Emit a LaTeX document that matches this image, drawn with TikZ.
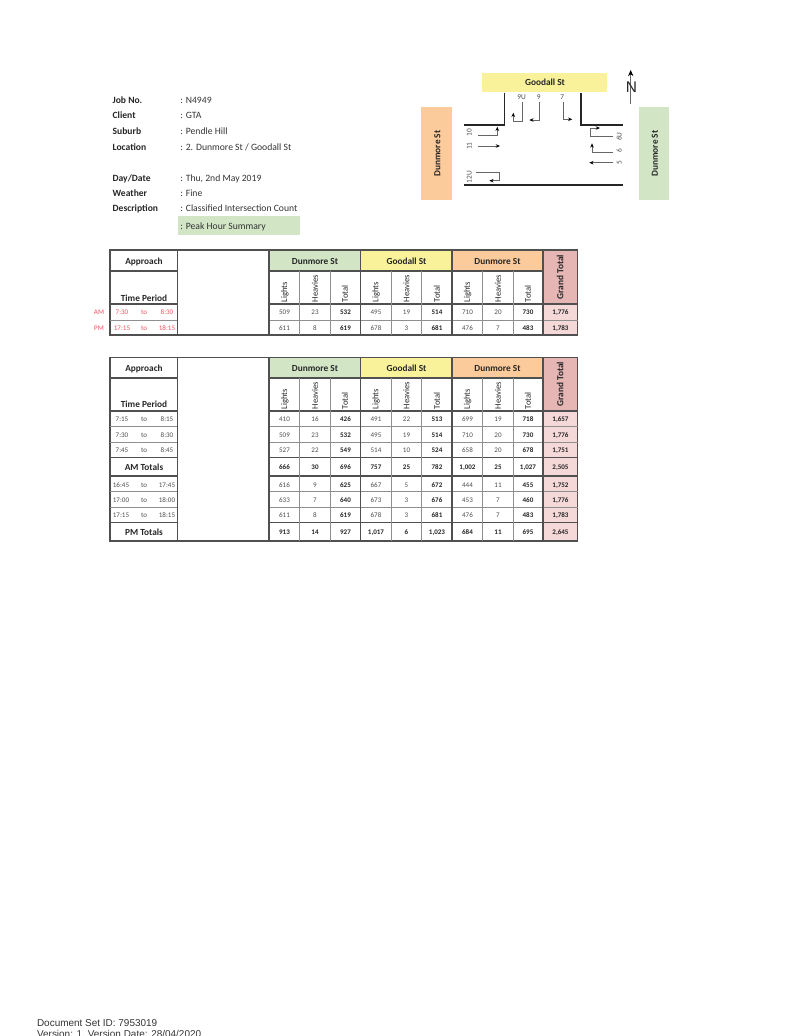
\documentclass[tikz,border=0pt]{standalone}
\usepackage{fontspec}
\setmainfont{Carlito}
\newfontfamily\footfont{Liberation Sans}
\usetikzlibrary{arrows.meta}
\definecolor{cellgreen}{HTML}{D2E6C6}
\definecolor{cellyellow}{HTML}{F9F29B}
\definecolor{cellorange}{HTML}{FBCB9C}
\definecolor{cellpink}{HTML}{E6B6B4}
\definecolor{celllight}{HTML}{F4D9D8}
\definecolor{griddark}{HTML}{505050}
\definecolor{gridgray}{HTML}{8F8F8F}
\definecolor{redtime}{HTML}{F0505F}
\tikzset{
    infokey/.style = {anchor=west,inner sep=0,text height=4.3pt,text depth=0pt,font=\fontsize{5.45}{6}\selectfont\bfseries,text=black!85},
    infoval/.style = {anchor=west,inner sep=0,text height=4.3pt,text depth=0pt,font=\fontsize{5.5}{6}\selectfont,text=black!80},
    head/.style = {inner sep=0,text height=4.3pt,text depth=0pt,font=\fontsize{5.3}{6}\selectfont\bfseries,text=black!85},
    headrot/.style = {anchor=west,rotate=90,inner sep=0.6pt,font=\fontsize{4.9}{6}\selectfont,text=black!85},
    grandrot/.style = {rotate=90,inner sep=0,text height=3.4pt,text depth=0pt,font=\fontsize{5.3}{6}\selectfont\bfseries,text=black!85},
    data/.style = {inner sep=0,text height=3.1pt,text depth=0pt,font=\fontsize{4}{5}\selectfont,text=black!70},
    datab/.style = {inner sep=0,text height=3.1pt,text depth=0pt,font=\fontsize{4}{5}\selectfont\bfseries,text=black!85},
    timered/.style = {inner sep=0,text height=3.1pt,text depth=0pt,font=\fontsize{4}{5}\selectfont,text=redtime},
    turnlabel/.style = {inner sep=0,text height=3.2pt,text depth=0pt,font=\fontsize{4.2}{5}\selectfont,text=black!70},
    turnlabelr/.style = {rotate=90,inner sep=0,text height=2.7pt,text depth=0pt,font=\fontsize{4.2}{5}\selectfont,text=black!70},
    turn/.style = {-{Stealth[black,length=2.4pt,width=2pt]},line width=0.4pt,black!60},
    road/.style = {-,line width=0.8pt,black!85},
    griddk/.style = {-,line width=0.75pt,griddark},
    gridlt/.style = {-,line width=0.55pt,gridgray},
}
\begin{document}
\begin{tikzpicture}[x=0.02cm,y=-0.02cm]
\useasboundingbox (0,0) rectangle (796,1036);

% job details
\fill[cellgreen] (178.3,216) rectangle (300,235);
\node[infokey] at (112.3,100) (kjob) {Job No.};
\node[infokey] at (112.3,115) (kclient) {Client};
\node[infokey] at (112.3,131) (ksuburb) {Suburb};
\node[infokey] at (112.3,146.7) (kloc) {Location};
\node[infokey] at (112.3,177.5) (kdate) {Day/Date};
\node[infokey] at (112.3,193) (kweather) {Weather};
\node[infokey] at (112.3,208) (kdesc) {Description};
\node[infoval] at (180,100) (vjob) {: N4949};
\node[infoval] at (180,115) (vclient) {: GTA};
\node[infoval] at (180,131) (vsuburb) {: Pendle Hill};
\node[infoval] at (180,146.7) (vloc) {: 2. Dunmore St / Goodall St};
\node[infoval] at (180,177.5) (vdate) {: Thu, 2nd May 2019};
\node[infoval] at (180,193) (vweather) {: Fine};
\node[infoval] at (180,208) (vdesc) {: Classified Intersection Count};
\node[infoval] at (180,226) (vsum) {: Peak Hour Summary};

% intersection
\fill[cellyellow] (482.3,73.3) rectangle (607,91.7);
\fill[cellorange] (421.3,107.3) rectangle (451.7,200);
\fill[cellgreen] (638.7,107.3) rectangle (669,200);
\node[head] at (545,82) (stn) {Goodall St};
\node[head,rotate=90] at (436.5,153.5) (stw) {Dunmore St};
\node[head,rotate=90] at (654,153.5) (ste) {Dunmore St};

\coordinate (rl1) at (504.7,92.7);
\coordinate (rl2) at (504.7,125);
\coordinate (rl3) at (464.3,125);
\coordinate (rr1) at (581,92.7);
\coordinate (rr2) at (581,125);
\coordinate (rr3) at (622.7,125);
\coordinate (rb1) at (464.3,185);
\coordinate (rb2) at (622.7,185);
\draw[road] (rl1) -- (rl2) -- (rl3);
\draw[road] (rr1) -- (rr2) -- (rr3);
\draw[road] (rb1) -- (rb2);

\node[turnlabel] at (521.7,97) (n9U) {9U};
\node[turnlabel] at (538.7,97) (n9) {9};
\node[turnlabel] at (562.3,97) (n7) {7};
\node[turnlabelr] at (469.3,132.3) (n10) {10};
\node[turnlabelr] at (469.3,146) (n11) {11};
\node[turnlabelr] at (469.3,177.3) (n12U) {12U};
\node[turnlabelr] at (619.3,136.7) (n6U) {6U};
\node[turnlabelr] at (619.3,150.7) (n6) {6};
\node[turnlabelr] at (619.3,162.7) (n5) {5};

\coordinate (s9U) at (522.3,101.7);
\coordinate (b9U) at (522.3,121.7);
\coordinate (e9U) at (513.3,112.7);
\coordinate (s9) at (539.3,102);
\coordinate (e9) at (529.3,120);
\coordinate (s7) at (563,102);
\coordinate (e7) at (572.3,119.3);
\coordinate (s10) at (478.3,135);
\coordinate (e10) at (497.3,126.7);
\coordinate (s11) at (478,146);
\coordinate (e11) at (500,146);
\coordinate (s12U) at (476,172.7);
\coordinate (b12U) at (499,172.7);
\coordinate (e12U) at (489.3,180.7);
\coordinate (s6U) at (613,136.7);
\coordinate (b6U) at (590,136.7);
\coordinate (e6U) at (600,128);
\coordinate (s6) at (613,152.3);
\coordinate (e6) at (592,143.3);
\coordinate (s5) at (613,162.7);
\coordinate (e5) at (589.3,162.7);
\draw[turn] (s9U) -- (b9U) -| (e9U);
\draw[turn] (s9) |- (e9);
\draw[turn] (s7) |- (e7);
\draw[turn] (s10) -| (e10);
\draw[turn] (s11) -- (e11);
\draw[turn] (s12U) -- (b12U) |- (e12U);
\draw[turn] (s6U) -- (b6U) |- (e6U);
\draw[turn] (s6) -| (e6);
\draw[turn] (s5) -- (e5);

% north point
\coordinate (ns) at (630.7,104.3);
\coordinate (ne) at (630.7,70);
\draw[-{Stealth[black,length=3.5pt,width=3pt]},line width=0.5pt,black!60] (ns) -- (ne);
\node[inner sep=0,font=\footfont\fontsize{8.8}{10}\selectfont,text=black!85] at (631.5,87.5) (nn) {N};

% first table
\fill[cellgreen] (269,250) rectangle (360.7,271);
\fill[cellyellow] (360.7,250) rectangle (452,271);
\fill[cellorange] (452,250) rectangle (543,271);
\fill[cellpink] (543,250) rectangle (577.5,304);
\fill[celllight] (543,304) rectangle (577.5,335);
\draw[griddk] (110,250) rectangle (577.5,335);
\draw[griddk] (110,271) -- (177.7,271);
\draw[griddk] (269,271) -- (543,271);
\draw[griddk] (110,304) -- (177.7,304);
\draw[griddk] (269,304) -- (577.5,304);
\draw[gridlt] (110,320) -- (177.7,320);
\draw[gridlt] (269,320) -- (577.5,320);
\draw[griddk] (177.7,250) -- (177.7,335);
\draw[griddk] (269,250) -- (269,335);
\draw[griddk] (360.7,250) -- (360.7,335);
\draw[griddk] (452,250) -- (452,335);
\draw[griddk] (543,250) -- (543,335);
\draw[gridlt] (299.7,271) -- (299.7,335);
\draw[gridlt] (330,271) -- (330,335);
\draw[gridlt] (391,271) -- (391,335);
\draw[gridlt] (421.7,271) -- (421.7,335);
\draw[gridlt] (482.7,271) -- (482.7,335);
\draw[gridlt] (513,271) -- (513,335);

\node[head] at (144,260.7) (aapp) {Approach};
\node[head] at (144,298) (atp) {Time Period};
\node[head] at (315,260.7) (ad1) {Dunmore St};
\node[head] at (406.5,260.7) (ag) {Goodall St};
\node[head] at (497.5,260.7) (ad2) {Dunmore St};
\node[grandrot] at (560.5,277) (agt) {Grand Total};
\node[headrot] at (285,303.5) (al1) {Lights};
\node[headrot] at (315,303.5) (ah1) {Heavies};
\node[headrot] at (345,303.5) (at1) {Total};
\node[headrot] at (376,303.5) (al2) {Lights};
\node[headrot] at (406.5,303.5) (ah2) {Heavies};
\node[headrot] at (437,303.5) (at2) {Total};
\node[headrot] at (467.5,303.5) (al3) {Lights};
\node[headrot] at (498,303.5) (ah3) {Heavies};
\node[headrot] at (528,303.5) (at3) {Total};

\node[timered] at (99,312) (am) {AM};
\node[timered] at (99,328) (pm) {PM};
\node[timered] at (122,312) (a1s) {7:30};
\node[timered] at (144,312) (a1m) {to};
\node[timered] at (167,312) (a1e) {8:30};
\node[timered] at (122,328) (a2s) {17:15};
\node[timered] at (144,328) (a2m) {to};
\node[timered] at (167,328) (a2e) {18:15};

\node[data] at (284.5,312) (a1c1) {509};
\node[data] at (315,312) (a1c2) {23};
\node[datab] at (345.5,312) (a1c3) {532};
\node[data] at (376,312) (a1c4) {495};
\node[data] at (406.5,312) (a1c5) {19};
\node[datab] at (437,312) (a1c6) {514};
\node[data] at (467.5,312) (a1c7) {710};
\node[data] at (498,312) (a1c8) {20};
\node[datab] at (528,312) (a1c9) {730};
\node[datab] at (560.5,312) (a1c10) {1,776};
\node[data] at (284.5,328) (a2c1) {611};
\node[data] at (315,328) (a2c2) {8};
\node[datab] at (345.5,328) (a2c3) {619};
\node[data] at (376,328) (a2c4) {678};
\node[data] at (406.5,328) (a2c5) {3};
\node[datab] at (437,328) (a2c6) {681};
\node[data] at (467.5,328) (a2c7) {476};
\node[data] at (498,328) (a2c8) {7};
\node[datab] at (528,328) (a2c9) {483};
\node[datab] at (560.5,328) (a2c10) {1,783};

% second table
\fill[cellgreen] (269,357.3) rectangle (360.7,378);
\fill[cellyellow] (360.7,357.3) rectangle (452,378);
\fill[cellorange] (452,357.3) rectangle (543,378);
\fill[cellpink] (543,357.3) rectangle (577.5,411);
\fill[celllight] (543,411) rectangle (577.5,541);
\draw[griddk] (110,357.3) rectangle (577.5,541);
\draw[griddk] (110,378) -- (177.7,378);
\draw[griddk] (269,378) -- (543,378);
\draw[griddk] (110,411) -- (177.7,411);
\draw[griddk] (269,411) -- (577.5,411);
\draw[gridlt] (110,426.7) -- (177.7,426.7);
\draw[gridlt] (269,426.7) -- (577.5,426.7);
\draw[gridlt] (110,442.3) -- (177.7,442.3);
\draw[gridlt] (269,442.3) -- (577.5,442.3);
\draw[griddk] (110,457.7) -- (177.7,457.7);
\draw[griddk] (269,457.7) -- (577.5,457.7);
\draw[griddk] (110,476) -- (177.7,476);
\draw[griddk] (269,476) -- (577.5,476);
\draw[gridlt] (110,491.7) -- (177.7,491.7);
\draw[gridlt] (269,491.7) -- (577.5,491.7);
\draw[gridlt] (110,507) -- (177.7,507);
\draw[gridlt] (269,507) -- (577.5,507);
\draw[griddk] (110,522.7) -- (177.7,522.7);
\draw[griddk] (269,522.7) -- (577.5,522.7);
\draw[griddk] (177.7,357.3) -- (177.7,541);
\draw[griddk] (269,357.3) -- (269,541);
\draw[griddk] (360.7,357.3) -- (360.7,541);
\draw[griddk] (452,357.3) -- (452,541);
\draw[griddk] (543,357.3) -- (543,541);
\draw[gridlt] (299.7,378) -- (299.7,541);
\draw[gridlt] (330,378) -- (330,541);
\draw[gridlt] (391,378) -- (391,541);
\draw[gridlt] (421.7,378) -- (421.7,541);
\draw[gridlt] (482.7,378) -- (482.7,541);
\draw[gridlt] (513,378) -- (513,541);

\node[head] at (144,367.5) (bapp) {Approach};
\node[head] at (144,404) (btp) {Time Period};
\node[head] at (315,367.5) (bd1) {Dunmore St};
\node[head] at (406.5,367.5) (bg) {Goodall St};
\node[head] at (497.5,367.5) (bd2) {Dunmore St};
\node[grandrot] at (560.5,384) (bgt) {Grand Total};
\node[headrot] at (285,410.5) (bl1) {Lights};
\node[headrot] at (315,410.5) (bh1) {Heavies};
\node[headrot] at (345,410.5) (bt1) {Total};
\node[headrot] at (376,410.5) (bl2) {Lights};
\node[headrot] at (406.5,410.5) (bh2) {Heavies};
\node[headrot] at (437,410.5) (bt2) {Total};
\node[headrot] at (467.5,410.5) (bl3) {Lights};
\node[headrot] at (498,410.5) (bh3) {Heavies};
\node[headrot] at (528,410.5) (bt3) {Total};

\node[data] at (122,419) (b1s) {7:15};
\node[data] at (144,419) (b1m) {to};
\node[data] at (167,419) (b1e) {8:15};
\node[data] at (122,434.7) (b2s) {7:30};
\node[data] at (144,434.7) (b2m) {to};
\node[data] at (167,434.7) (b2e) {8:30};
\node[data] at (122,450) (b3s) {7:45};
\node[data] at (144,450) (b3m) {to};
\node[data] at (167,450) (b3e) {8:45};
\node[head] at (144,466.7) (bam) {AM Totals};
\node[data] at (121,484.3) (b5s) {16:45};
\node[data] at (144,484.3) (b5m) {to};
\node[data] at (167,484.3) (b5e) {17:45};
\node[data] at (121,499.7) (b6s) {17:00};
\node[data] at (144,499.7) (b6m) {to};
\node[data] at (167,499.7) (b6e) {18:00};
\node[data] at (121,515) (b7s) {17:15};
\node[data] at (144,515) (b7m) {to};
\node[data] at (167,515) (b7e) {18:15};
\node[head] at (144,532) (bpm) {PM Totals};

\node[data] at (284.5,419) (b1c1) {410};
\node[data] at (315,419) (b1c2) {16};
\node[datab] at (345.5,419) (b1c3) {426};
\node[data] at (376,419) (b1c4) {491};
\node[data] at (406.5,419) (b1c5) {22};
\node[datab] at (437,419) (b1c6) {513};
\node[data] at (467.5,419) (b1c7) {699};
\node[data] at (498,419) (b1c8) {19};
\node[datab] at (528,419) (b1c9) {718};
\node[datab] at (560.5,419) (b1c10) {1,657};
\node[data] at (284.5,434.7) (b2c1) {509};
\node[data] at (315,434.7) (b2c2) {23};
\node[datab] at (345.5,434.7) (b2c3) {532};
\node[data] at (376,434.7) (b2c4) {495};
\node[data] at (406.5,434.7) (b2c5) {19};
\node[datab] at (437,434.7) (b2c6) {514};
\node[data] at (467.5,434.7) (b2c7) {710};
\node[data] at (498,434.7) (b2c8) {20};
\node[datab] at (528,434.7) (b2c9) {730};
\node[datab] at (560.5,434.7) (b2c10) {1,776};
\node[data] at (284.5,450) (b3c1) {527};
\node[data] at (315,450) (b3c2) {22};
\node[datab] at (345.5,450) (b3c3) {549};
\node[data] at (376,450) (b3c4) {514};
\node[data] at (406.5,450) (b3c5) {10};
\node[datab] at (437,450) (b3c6) {524};
\node[data] at (467.5,450) (b3c7) {658};
\node[data] at (498,450) (b3c8) {20};
\node[datab] at (528,450) (b3c9) {678};
\node[datab] at (560.5,450) (b3c10) {1,751};
\node[datab] at (284.5,466.7) (b4c1) {666};
\node[datab] at (315,466.7) (b4c2) {30};
\node[datab] at (345.5,466.7) (b4c3) {696};
\node[datab] at (376,466.7) (b4c4) {757};
\node[datab] at (406.5,466.7) (b4c5) {25};
\node[datab] at (437,466.7) (b4c6) {782};
\node[datab] at (467.5,466.7) (b4c7) {1,002};
\node[datab] at (498,466.7) (b4c8) {25};
\node[datab] at (528,466.7) (b4c9) {1,027};
\node[datab] at (560.5,466.7) (b4c10) {2,505};
\node[data] at (284.5,484.3) (b5c1) {616};
\node[data] at (315,484.3) (b5c2) {9};
\node[datab] at (345.5,484.3) (b5c3) {625};
\node[data] at (376,484.3) (b5c4) {667};
\node[data] at (406.5,484.3) (b5c5) {5};
\node[datab] at (437,484.3) (b5c6) {672};
\node[data] at (467.5,484.3) (b5c7) {444};
\node[data] at (498,484.3) (b5c8) {11};
\node[datab] at (528,484.3) (b5c9) {455};
\node[datab] at (560.5,484.3) (b5c10) {1,752};
\node[data] at (284.5,499.7) (b6c1) {633};
\node[data] at (315,499.7) (b6c2) {7};
\node[datab] at (345.5,499.7) (b6c3) {640};
\node[data] at (376,499.7) (b6c4) {673};
\node[data] at (406.5,499.7) (b6c5) {3};
\node[datab] at (437,499.7) (b6c6) {676};
\node[data] at (467.5,499.7) (b6c7) {453};
\node[data] at (498,499.7) (b6c8) {7};
\node[datab] at (528,499.7) (b6c9) {460};
\node[datab] at (560.5,499.7) (b6c10) {1,776};
\node[data] at (284.5,515) (b7c1) {611};
\node[data] at (315,515) (b7c2) {8};
\node[datab] at (345.5,515) (b7c3) {619};
\node[data] at (376,515) (b7c4) {678};
\node[data] at (406.5,515) (b7c5) {3};
\node[datab] at (437,515) (b7c6) {681};
\node[data] at (467.5,515) (b7c7) {476};
\node[data] at (498,515) (b7c8) {7};
\node[datab] at (528,515) (b7c9) {483};
\node[datab] at (560.5,515) (b7c10) {1,783};
\node[datab] at (284.5,532) (b8c1) {913};
\node[datab] at (315,532) (b8c2) {14};
\node[datab] at (345.5,532) (b8c3) {927};
\node[datab] at (376,532) (b8c4) {1,017};
\node[datab] at (406.5,532) (b8c5) {6};
\node[datab] at (437,532) (b8c6) {1,023};
\node[datab] at (467.5,532) (b8c7) {684};
\node[datab] at (498,532) (b8c8) {11};
\node[datab] at (528,532) (b8c9) {695};
\node[datab] at (560.5,532) (b8c10) {2,645};

% footer
\node[anchor=base west,inner sep=0,font=\footfont\fontsize{5.67}{6}\selectfont,text=black!80] at (36.7,1026) (foot1) {Document Set ID: 7953019};
\node[anchor=base west,inner sep=0,font=\footfont\fontsize{5.67}{6}\selectfont,text=black!80] at (36.7,1037.5) (foot2) {Version: 1, Version Date: 28/04/2020};

\end{tikzpicture}
\end{document}
